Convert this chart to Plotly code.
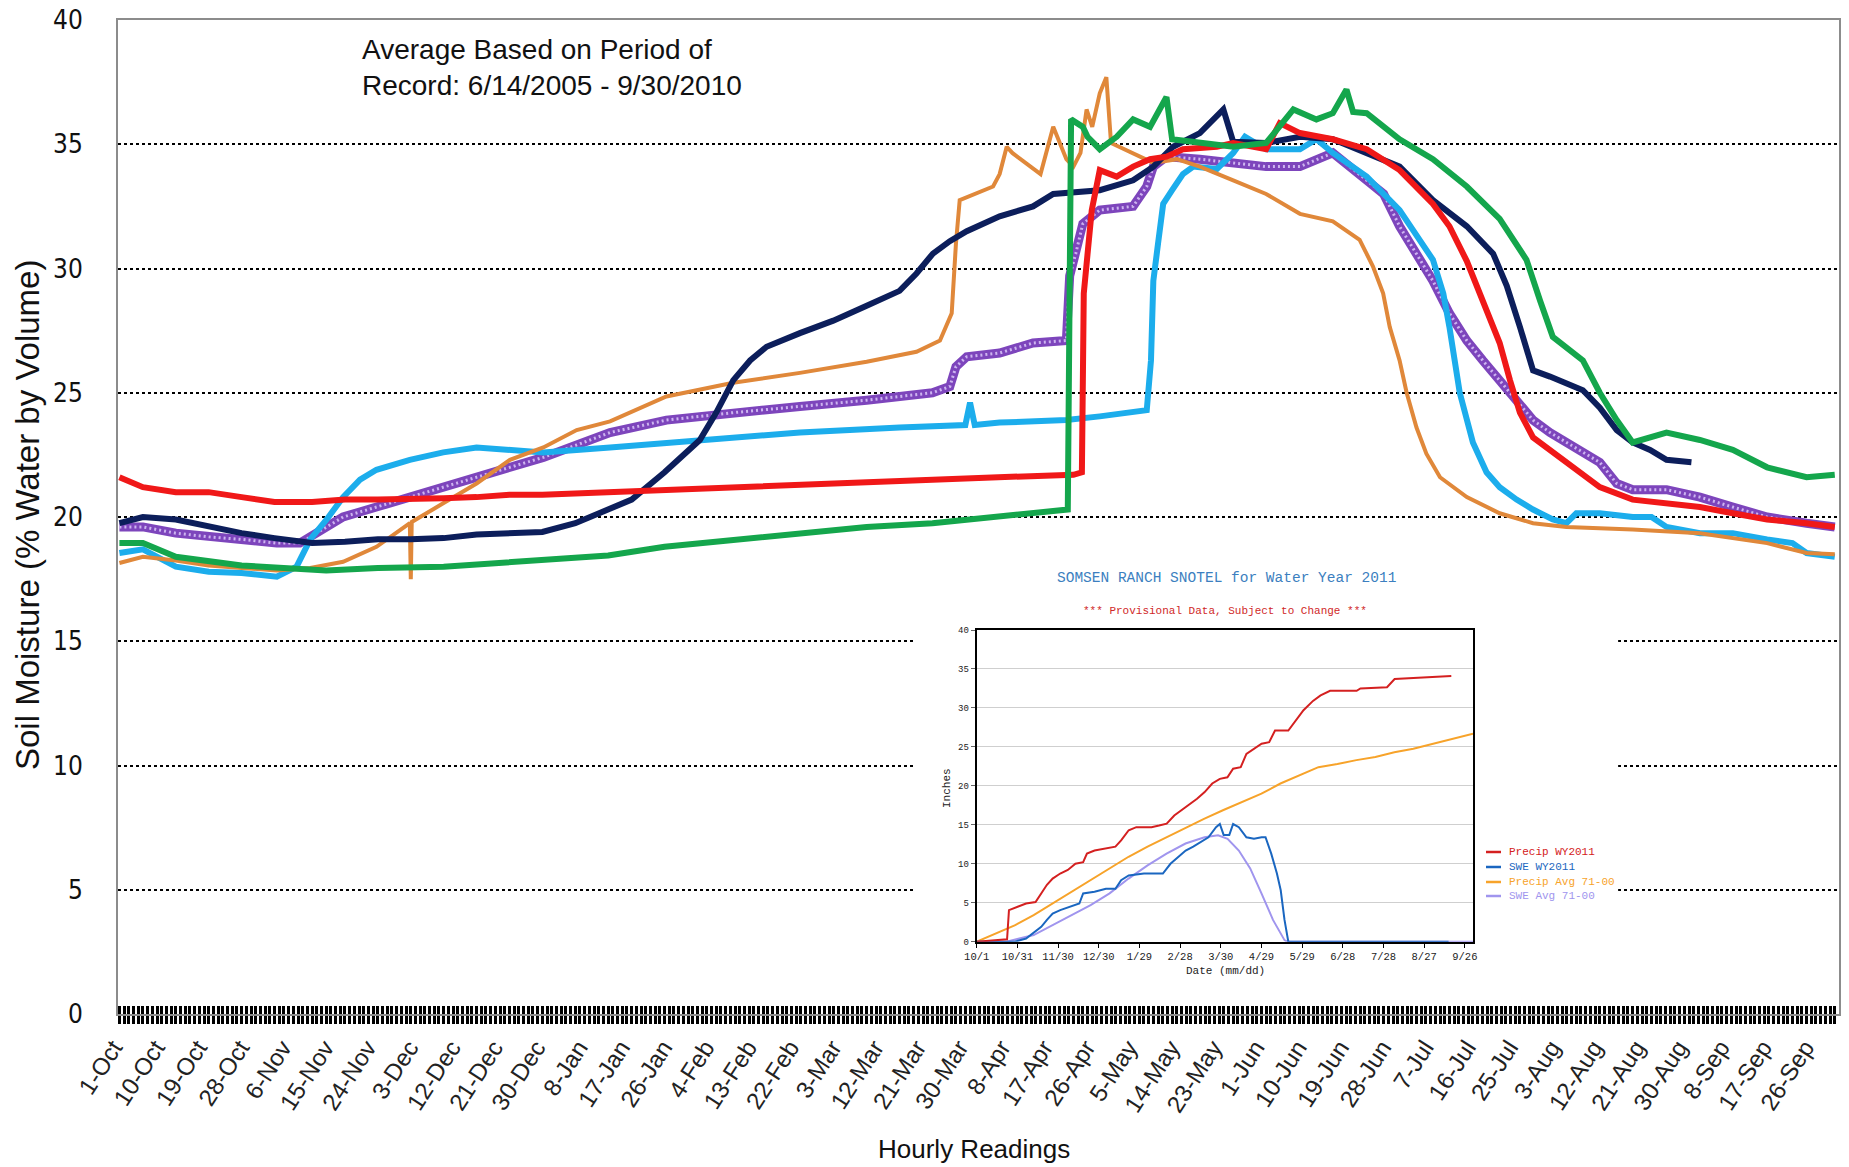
import plotly.graph_objects as go

# ---------------- main chart (day index counted from 1-Oct) ----------------
tick_labels = ["1-Oct", "10-Oct", "19-Oct", "28-Oct", "6-Nov", "15-Nov", "24-Nov", "3-Dec",
               "12-Dec", "21-Dec", "30-Dec", "8-Jan", "17-Jan", "26-Jan", "4-Feb", "13-Feb",
               "22-Feb", "3-Mar", "12-Mar", "21-Mar", "30-Mar", "8-Apr", "17-Apr", "26-Apr",
               "5-May", "14-May", "23-May", "1-Jun", "10-Jun", "19-Jun", "28-Jun", "7-Jul",
               "16-Jul", "25-Jul", "3-Aug", "12-Aug", "21-Aug", "30-Aug", "8-Sep", "17-Sep", "26-Sep"]
tick_days = [9 * i for i in range(len(tick_labels))]
y_ticks = [0, 5, 10, 15, 20, 25, 30, 35, 40]

red_days = [0, 5, 12, 19, 26, 33, 41, 48, 55, 62, 69, 76, 83, 90, 97, 104, 124, 145, 166, 187,
            203, 204.8, 205.2, 206.9, 208.6, 212.2, 215.7, 219.3, 222.8, 226.3, 233.5, 237, 244,
            246.9, 251.2, 258.2, 265.4, 272.4, 279.5, 283, 286.7, 290.1, 293.7, 295.9, 298, 300.8,
            307.9, 315, 322, 329.2, 336.3, 343.3, 350.6, 359, 365]
red_vals = [21.6, 21.2, 21.0, 21.0, 20.8, 20.6, 20.6, 20.7, 20.7, 20.7, 20.75, 20.8, 20.9, 20.9,
            20.95, 21.0, 21.15, 21.35, 21.5, 21.6, 21.7, 21.8, 29.0, 32.35, 33.96, 33.7, 34.1, 34.4,
            34.5, 34.8, 34.9, 35.05, 34.8, 35.85, 35.45, 35.2, 34.8, 33.96, 32.6, 31.7, 30.3, 28.7,
            27.0, 25.5, 24.2, 23.2, 22.2, 21.2, 20.7, 20.55, 20.4, 20.15, 19.9, 19.75, 19.6]

navy_days = [0, 5, 12, 19, 26, 33, 41, 48, 55, 62, 69, 76, 83, 90, 97, 102, 109, 116, 123.5, 127,
             130.6, 134.2, 137.7, 144.8, 151.9, 159, 166, 169.6, 173.1, 176.7, 180.3, 187.3, 194.4,
             198.7, 208.6, 215.7, 220, 224.2, 229.9, 234.9, 237, 244, 251.2, 258.2, 265.4, 272.4,
             279.5, 286.7, 292.3, 295.2, 298, 300.8, 304.4, 311.4, 315, 318.6, 322, 325.7, 329.2,
             334.5]
navy_vals = [19.75, 20.0, 19.9, 19.6, 19.35, 19.15, 18.95, 19.0, 19.1, 19.1, 19.15, 19.3, 19.35,
             19.4, 19.75, 20.15, 20.7, 21.8, 23.1, 24.2, 25.5, 26.3, 26.85, 27.4, 27.9, 28.5, 29.1,
             29.8, 30.6, 31.1, 31.5, 32.1, 32.5, 33.0, 33.15, 33.55, 34.1, 34.9, 35.45, 36.4, 35.1,
             35.05, 35.3, 35.2, 34.65, 34.1, 32.75, 31.7, 30.6, 29.3, 27.65, 25.9, 25.65, 25.1, 24.4,
             23.5, 23.0, 22.7, 22.3, 22.2]

green_days = [0, 5, 12, 19, 26, 44, 55, 69, 83, 97, 104, 116, 131, 145, 159, 173, 187, 201, 201.8,
              202.5, 205, 206, 208.6, 212.2, 215.7, 219.3, 222.8, 224, 229.9, 237, 244, 249.8, 254.7,
              258.2, 261.1, 262.5, 265.4, 272.4, 279.5, 286.7, 293.7, 299.4, 302.3, 305, 311.4, 315,
              318.6, 322, 329.2, 336.3, 343.3, 350.6, 359, 365]
green_vals = [18.95, 18.95, 18.4, 18.2, 18.05, 17.85, 17.95, 18.0, 18.2, 18.4, 18.45, 18.8, 19.1,
              19.35, 19.6, 19.75, 20.0, 20.3, 20.3, 36.0, 35.7, 35.3, 34.8, 35.3, 36.0, 35.7, 36.9,
              35.2, 35.05, 34.9, 35.05, 36.4, 36.0, 36.25, 37.2, 36.3, 36.25, 35.2, 34.4, 33.3, 32.0,
              30.35, 28.7, 27.25, 26.3, 25.0, 23.9, 23.0, 23.4, 23.1, 22.7, 22.0, 21.6, 21.7]

orange_days = [0, 5, 12, 19, 26, 33.5, 40.6, 47.6, 54.7, 61.8, 62, 62.2, 68.9, 76, 83.1, 90.2,
               97.3, 104.4, 116.4, 130.6, 144.8, 159, 169.6, 174.6, 177.1, 178, 178.8, 185.9, 187.3,
               188.8, 190, 194.4, 196, 198.7, 200, 201.5, 203, 204.5, 205.8, 207, 208.6, 210, 211,
               215.7, 220, 225, 229.9, 237, 244, 251.2, 258.2, 263.9, 266.7, 268.9, 270.3, 272.4,
               273.9, 276, 278.1, 281, 286.7, 293.7, 300.8, 307.9, 322, 336.3, 350.6, 359, 365]
orange_vals = [18.15, 18.4, 18.25, 18.05, 17.95, 17.85, 17.95, 18.2, 18.8, 19.75, 17.5, 19.8,
               20.55, 21.35, 22.3, 22.8, 23.5, 23.85, 24.85, 25.4, 25.8, 26.25, 26.65, 27.1, 28.2,
               31.0, 32.75, 33.3, 33.8, 34.9, 34.65, 34.0, 33.8, 35.7, 35.05, 34.4, 34.1, 34.65, 36.4,
               35.7, 37.05, 37.7, 35.05, 34.65, 34.25, 34.4, 34.1, 33.55, 33.0, 32.2, 31.9, 31.15,
               30.1, 29.0, 27.65, 26.3, 25.0, 23.6, 22.55, 21.6, 20.8, 20.15, 19.75, 19.6, 19.5,
               19.35, 18.95, 18.55, 18.5]

lblue_days = [0, 5, 12, 19, 26, 33.5, 37.7, 40.6, 44.1, 47.6, 51.2, 54.7, 61.8, 68.9, 76, 83,
              90.2, 104.4, 123.5, 144.8, 166, 180, 181, 182, 187.3, 201.5, 208.6, 215.7, 218.6,
              219.5, 220, 221, 222.1, 224, 226.3, 228.5, 233.5, 237, 239.5, 244, 251.2, 254.7,
              258.2, 265.4, 272.4, 279.5, 281.7, 283, 285.2, 288, 290.9, 293.7, 297.3, 300.8, 305,
              307.9, 310, 315, 322, 326, 329.2, 336.3, 343.3, 350.6, 356, 359, 365]
lblue_vals = [18.55, 18.7, 18.0, 17.8, 17.75, 17.6, 18.0, 19.1, 19.9, 20.8, 21.5, 21.9, 22.3, 22.6,
              22.8, 22.7, 22.6, 22.8, 23.1, 23.4, 23.6, 23.7, 24.6, 23.7, 23.8, 23.9, 24.05, 24.2,
              24.3, 26.3, 29.5, 31.0, 32.6, 33.15, 33.8, 34.1, 34.0, 34.65, 35.3, 34.8, 34.8, 35.2,
              34.65, 33.7, 32.35, 30.35, 29.0, 27.65, 25.0, 23.0, 21.8, 21.2, 20.7, 20.3, 19.9,
              19.75, 20.15, 20.15, 20.0, 20.0, 19.6, 19.35, 19.35, 19.1, 18.95, 18.55, 18.4]

avg_days = [0, 5, 12, 19, 26, 33.5, 38.4, 44.1, 47.6, 54.7, 61.8, 68.9, 76, 83.1, 90.2, 97.3,
            104.4, 116.4, 130.6, 144.8, 159, 173, 176.7, 178, 180.3, 187.3, 194.4, 201.5, 202.2,
            203.5, 205, 206, 208.6, 215.7, 218.6, 220, 222.8, 229.9, 237, 244, 251.2, 258.2, 265.4,
            269, 272.4, 276, 279.5, 283, 286.7, 290.1, 293.7, 297.3, 300.8, 304.4, 307.9, 315,
            318.6, 322, 329.2, 336.3, 343.3, 350.6, 359, 365]
avg_vals = [19.6, 19.6, 19.35, 19.2, 19.1, 18.95, 18.95, 19.6, 20.0, 20.4, 20.8, 21.2, 21.6, 22.0,
            22.4, 22.9, 23.4, 23.9, 24.2, 24.45, 24.7, 25.0, 25.25, 26.05, 26.45, 26.6, 27.0, 27.1,
            29.7, 30.6, 31.8, 31.95, 32.35, 32.5, 33.3, 34.1, 34.5, 34.4, 34.25, 34.1, 34.1, 34.65,
            33.55, 33.0, 31.7, 30.6, 29.5, 28.2, 27.1, 26.3, 25.5, 24.7, 23.9, 23.4, 23.0, 22.2,
            21.35, 21.1, 21.1, 20.8, 20.4, 20.0, 19.75, 19.6]

# ---------------- inset: SNOTEL water year 2011 ----------------
inset_tick_labels = ["10/1", "10/31", "11/30", "12/30", "1/29", "2/28", "3/30", "4/29", "5/29",
                     "6/28", "7/28", "8/27", "9/26"]
inset_tick_days = [30 * i for i in range(len(inset_tick_labels))]

precip_days = [0, 15, 22, 22.4, 23.8, 30.8, 36.4, 43.4, 47.6, 51.8, 56, 61.6, 67.2, 72.8, 78.5,
               81.3, 86.9, 95.3, 102.3, 106.5, 112.1, 117.7, 128.9, 134.5, 140.1, 145.7, 151.3,
               156.9, 162.5, 168.1, 173.7, 179.3, 184.9, 189.1, 194.7, 198.9, 204.5, 210.1, 215.7,
               220, 229.8, 235.4, 241, 248, 253.6, 260.6, 280.2, 283, 302.6, 308.2, 325, 339, 350]
precip_vals = [0, 0.2, 0.3, 0.3, 4.05, 4.5, 4.9, 5.1, 6.2, 7.3, 8.1, 8.75, 9.2, 10.0, 10.2, 11.3,
               11.7, 11.95, 12.2, 13.0, 14.3, 14.7, 14.7, 14.9, 15.15, 16.2, 16.9, 17.7, 18.35, 19.2,
               20.3, 20.9, 21.1, 22.2, 22.4, 24.1, 24.75, 25.4, 25.6, 27.1, 27.1, 28.4, 29.7, 30.9,
               31.6, 32.2, 32.2, 32.5, 32.65, 33.7, 33.85, 34.0, 34.1]

swe_days = [0, 28, 36.4, 42, 47.6, 51.8, 56, 61.6, 70, 75.7, 78.5, 86.9, 95.3, 102.3, 106.5, 112.1,
            123.3, 137.3, 142.9, 148.5, 154.1, 159.7, 165.3, 170.9, 176.5, 179.3, 182.1, 186.3,
            189.1, 193.3, 198.9, 204.5, 210.1, 213, 217.2, 221.4, 224.2, 227, 229.8, 348]
swe_vals = [0, 0, 0.4, 1.1, 1.9, 2.8, 3.6, 4.05, 4.5, 4.9, 6.2, 6.4, 6.8, 6.8, 7.9, 8.5, 8.75, 8.75,
            10.0, 10.9, 11.7, 12.2, 12.8, 13.4, 14.7, 15.1, 13.7, 13.7, 15.1, 14.7, 13.4, 13.2,
            13.4, 13.4, 11.3, 8.75, 6.6, 2.8, 0, 0]

precip_avg_days = [0, 14, 28, 42, 56, 70, 84, 98, 112, 126, 140, 154, 168, 182, 196, 210, 224, 238,
                   252, 266, 280, 294, 308, 322, 336, 350, 366]
precip_avg_vals = [0, 1.1, 2.1, 3.4, 4.9, 6.4, 7.9, 9.4, 10.9, 12.2, 13.4, 14.7, 15.8, 16.9, 17.9,
                   19.0, 20.3, 21.3, 22.4, 22.8, 23.3, 23.7, 24.3, 24.75, 25.4, 26.0, 26.7]

swe_avg_days = [0, 22, 42, 56, 70, 84, 98, 112, 126, 140, 154, 168, 178, 185, 193.3, 201.7, 210,
                218.5, 227, 229, 366]
swe_avg_vals = [0, 0, 0.85, 2.1, 3.4, 4.7, 6.2, 8.1, 9.8, 11.3, 12.6, 13.4, 13.65, 13.2, 11.7, 9.4,
                6.2, 2.8, 0.2, 0, 0]

inset_legend = ["Precip WY2011", "SWE WY2011", "Precip Avg 71-00", "SWE Avg 71-00"]

for a, b in [(red_days, red_vals), (navy_days, navy_vals), (green_days, green_vals),
             (orange_days, orange_vals), (lblue_days, lblue_vals), (avg_days, avg_vals),
             (precip_days, precip_vals), (swe_days, swe_vals), (precip_avg_days, precip_avg_vals),
             (swe_avg_days, swe_avg_vals)]:
    assert len(a) == len(b), (len(a), len(b))

# ---------------- geometry (figure fills the page; body margin removed) ----------------
W, H = 1849, 1167
ML, MR, MT, MB = 118, 10, 20, 153
PW, PH = W - ML - MR, H - MT - MB


def px(xs):  # screen x -> paper
    return (xs - ML) / PW


def py(ys):  # screen y -> paper
    return (H - MB - ys) / PH


XR = [-0.3, 365.9]
YR = [0, 40]

fig = go.Figure()

main_series = [
    (lblue_days, lblue_vals, "#1cadec", 6),
    (orange_days, orange_vals, "#e0883a", 4),
    (navy_days, navy_vals, "#0c1e5b", 6),
    (red_days, red_vals, "#f01818", 6),
    (green_days, green_vals, "#14a64c", 6),
]
# average series: thick purple band with a light cross-hatch texture on top
fig.add_trace(go.Scatter(x=avg_days, y=avg_vals, mode="lines",
                         line=dict(color="#7d45bc", width=9),
                         showlegend=False, hoverinfo="skip", xaxis="x", yaxis="y"))
fig.add_trace(go.Scatter(x=avg_days, y=avg_vals, mode="lines",
                         line=dict(color="#cdb4f0", width=3, dash="2px,3px"),
                         showlegend=False, hoverinfo="skip", xaxis="x", yaxis="y"))
for d, v, c, w in main_series:
    fig.add_trace(go.Scatter(x=d, y=v, mode="lines", line=dict(color=c, width=w),
                             showlegend=False, hoverinfo="skip", xaxis="x", yaxis="y"))

# empty trace so the overlay axis carrying the inner tick marks is drawn
fig.add_trace(go.Scatter(x=[None], y=[None], mode="lines", showlegend=False,
                         hoverinfo="skip", xaxis="x3", yaxis="y"))

inset_series = [
    (precip_avg_days, precip_avg_vals, "#f7a32a"),
    (swe_avg_days, swe_avg_vals, "#a095ee"),
    (swe_days, swe_vals, "#1a66c0"),
    (precip_days, precip_vals, "#d42020"),
]
for d, v, c in inset_series:
    fig.add_trace(go.Scatter(x=d, y=v, mode="lines", line=dict(color=c, width=2),
                             showlegend=False, hoverinfo="skip", xaxis="x2", yaxis="y2"))

legend_colors = ["#d42020", "#1a66c0", "#f7a32a", "#a095ee"]

main_font = "Liberation Sans, Arial, sans-serif"
narrow_font = "Liberation Sans Narrow, DejaVu Sans Condensed, Liberation Sans, Arial"
mono = "Liberation Mono, DejaVu Sans Mono, monospace"

fig.update_layout(
    width=W, height=H,
    margin=dict(l=ML, r=MR, t=MT, b=MB),
    paper_bgcolor="white", plot_bgcolor="white",
    xaxis=dict(range=XR, tickmode="array", tickvals=tick_days, ticktext=tick_labels,
               tickangle=-57, tickfont=dict(family=main_font, size=24, color="#222"),
               ticklabelshift=-6, automargin=False,
               ticks="outside", ticklen=8, tickwidth=3, tickcolor="black",
               minor=dict(tickmode="linear", tick0=0, dtick=1, ticks="outside", ticklen=8,
                          tickwidth=3, tickcolor="black"),
               showgrid=False, zeroline=False, showline=True, linecolor="#8c8c8c",
               linewidth=2, mirror=True),
    xaxis3=dict(range=XR, overlaying="x", anchor="y", tickmode="linear", tick0=0, dtick=1,
                ticks="inside", ticklen=8, tickwidth=3, tickcolor="black", automargin=False,
                showticklabels=False, showgrid=False, zeroline=False, showline=False),
    yaxis=dict(range=YR, tickmode="array", tickvals=y_ticks, ticktext=[str(t) for t in y_ticks],
               tickfont=dict(family=narrow_font, size=26, color="#111"),
               ticks="", ticklabelstandoff=28, ticklabeloverflow="allow", automargin=False,
               showgrid=True, gridcolor="black", griddash="dot", gridwidth=2,
               zeroline=False, showline=True, linecolor="#8c8c8c", linewidth=2, mirror=True),
    xaxis2=dict(domain=[px(976.7), px(1473)], anchor="y2", range=[0, 366], tickmode="array",
                tickvals=inset_tick_days, ticktext=inset_tick_labels,
                tickfont=dict(family=mono, size=10.5, color="#222"), tickangle=0,
                ticks="outside", ticklen=4, tickcolor="black", automargin=False,
                showgrid=False, zeroline=False, showline=True, linecolor="black",
                linewidth=2, mirror=True),
    yaxis2=dict(domain=[py(941.7), py(630)], anchor="x2", range=[0, 40], tickmode="linear",
                tick0=0, dtick=5, tickfont=dict(family=mono, size=9, color="#222"),
                ticks="outside", ticklen=4, tickcolor="#666", automargin=False,
                showgrid=True, gridcolor="#cfcfcf", gridwidth=1,
                zeroline=False, showline=True, linecolor="black", linewidth=2, mirror=True),
)

# white panel behind the inset: hides the dotted grid but sits under the data
box_kwargs = dict(type="rect", xref="x", yref="y", x0=169.1, x1=318.9, y0=0.5, y1=18.15,
                  fillcolor="white", line=dict(width=0))
try:
    fig.add_shape(layer="between", **box_kwargs)
except ValueError:
    fig.add_shape(layer="below", **box_kwargs)

ann = []
ann.append(dict(text="Average Based on Period of<br>Record: 6/14/2005 - 9/30/2010",
                x=px(360), y=py(68), xref="paper", yref="paper", xanchor="left", yanchor="middle",
                align="left", showarrow=False,
                font=dict(family=main_font, size=28, color="#111")))
ann.append(dict(text="Soil Moisture (% Water by Volume)", x=px(27), y=py(515), xref="paper",
                yref="paper", textangle=-90, showarrow=False, xanchor="center", yanchor="middle",
                font=dict(family=main_font, size=33, color="#111")))
ann.append(dict(text="Hourly Readings", x=px(974), y=py(1149), xref="paper", yref="paper",
                showarrow=False, xanchor="center", yanchor="middle",
                font=dict(family=main_font, size=26, color="#111")))
ann.append(dict(text="SOMSEN RANCH SNOTEL for Water Year 2011", x=px(1226), y=py(578),
                xref="paper", yref="paper", showarrow=False, xanchor="center", yanchor="middle",
                font=dict(family=mono, size=14.5, color="#3c7fc0")))
ann.append(dict(text="*** Provisional Data, Subject to Change ***", x=px(1225), y=py(611),
                xref="paper", yref="paper", showarrow=False, xanchor="center", yanchor="middle",
                font=dict(family=mono, size=11, color="#d02828")))
ann.append(dict(text="Inches", x=px(947), y=py(788), xref="paper", yref="paper", textangle=-90,
                showarrow=False, xanchor="center", yanchor="middle",
                font=dict(family=mono, size=11, color="#222")))
ann.append(dict(text="Date (mm/dd)", x=px(1225), y=py(971), xref="paper", yref="paper",
                showarrow=False, xanchor="center", yanchor="middle",
                font=dict(family=mono, size=11, color="#222")))

row_y = [852, 867, 882, 896]
for name, col, ry in zip(inset_legend, legend_colors, row_y):
    ann.append(dict(text=name, x=px(1507), y=py(ry), xref="paper", yref="paper",
                    showarrow=False, xanchor="left", yanchor="middle",
                    font=dict(family=mono, size=11, color=col)))
    fig.add_shape(type="line", xref="paper", yref="paper", x0=px(1486), x1=px(1501),
                  y0=py(ry), y1=py(ry), line=dict(color=col, width=2.5))

fig.update_layout(annotations=ann)

fig.write_html("out.html", config={"displayModeBar": False},
               post_script="document.body.style.margin='0';document.body.style.overflow='hidden';")
